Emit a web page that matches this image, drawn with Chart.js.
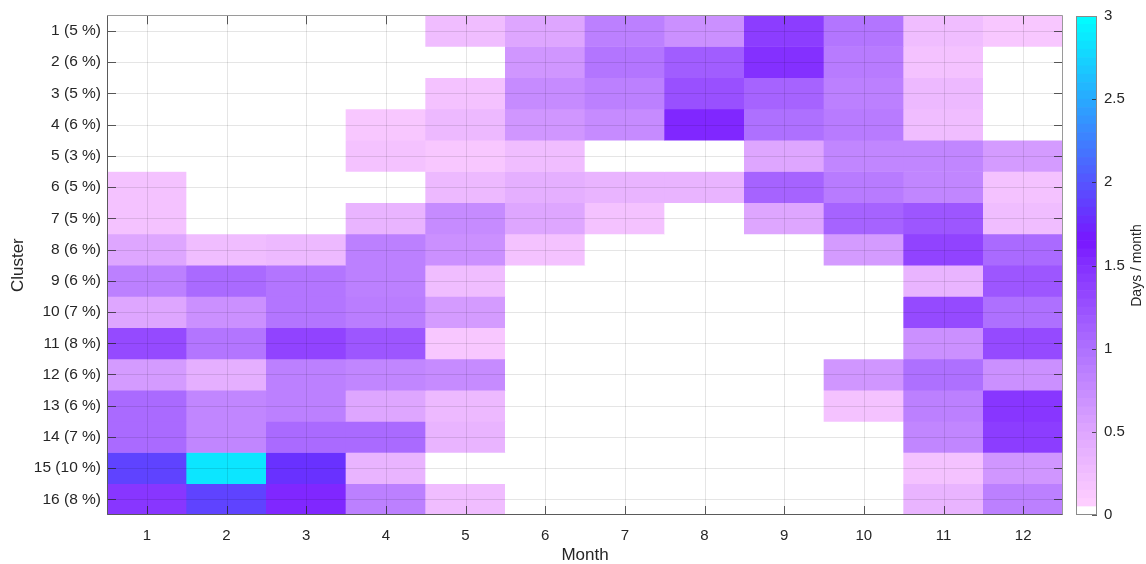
<!DOCTYPE html>
<html><head><meta charset="utf-8">
<script src="https://cdn.jsdelivr.net/npm/chart.js@4"></script>
<style>
html,body{margin:0;padding:0;background:#fff;}
#wrap{position:relative;width:1146px;height:564px;overflow:hidden;}
canvas{position:absolute;top:0;}
</style>
</head><body>
<div id="wrap">
<canvas id="main" width="1146" height="564" style="left:0;width:1146px;height:564px"></canvas>
<canvas id="cb" width="86" height="564" style="left:1060px;width:86px;height:564px"></canvas>
</div>
<script>
const months = ['1','2','3','4','5','6','7','8','9','10','11','12'];
const clusterLabels = ['1 (5 %)','2 (6 %)','3 (5 %)','4 (6 %)','5 (3 %)','6 (5 %)','7 (5 %)','8 (6 %)',
  '9 (6 %)','10 (7 %)','11 (8 %)','12 (6 %)','13 (6 %)','14 (7 %)','15 (10 %)','16 (8 %)'];
const colorbarTicks = [0,0.5,1,1.5,2,2.5,3];

const cluster1  = [0,0,0,0,0.25,0.5,0.85,0.7,1.4,0.95,0.25,0.15];
const cluster2  = [0,0,0,0,0,0.65,0.95,1.15,1.5,0.9,0.2,0];
const cluster3  = [0,0,0,0,0.2,0.75,0.85,1.25,1.1,0.85,0.3,0];
const cluster4  = [0,0,0,0.15,0.3,0.65,0.75,1.55,1.0,0.9,0.25,0];
const cluster5  = [0,0,0,0.2,0.15,0.25,0,0,0.5,0.8,0.8,0.6];
const cluster6  = [0.2,0,0,0,0.3,0.4,0.35,0.35,1.1,0.9,0.8,0.2];
const cluster7  = [0.2,0,0,0.35,0.75,0.5,0.2,0,0.5,1.1,1.2,0.25];
const cluster8  = [0.5,0.25,0.3,0.85,0.7,0.2,0,0,0,0.6,1.35,1.05];
const cluster9  = [0.85,1.05,0.95,0.85,0.25,0,0,0,0,0,0.35,1.2];
const cluster10 = [0.5,0.7,0.95,0.88,0.6,0,0,0,0,0,1.3,1.0];
const cluster11 = [1.3,0.95,1.35,1.2,0.15,0,0,0,0,0,0.7,1.3];
const cluster12 = [0.6,0.4,0.85,0.8,0.75,0,0,0,0,0.65,1.0,0.7];
const cluster13 = [1.05,0.8,0.85,0.5,0.3,0,0,0,0,0.2,0.85,1.45];
const cluster14 = [1.05,0.8,1.05,1.05,0.35,0,0,0,0,0,0.8,1.4];
const cluster15 = [1.9,2.85,1.8,0.35,0,0,0,0,0,0,0.2,0.65];
const cluster16 = [1.45,1.9,1.55,0.85,0.25,0,0,0,0,0,0.35,0.85];

const values = [cluster1,cluster2,cluster3,cluster4,cluster5,cluster6,cluster7,cluster8,
  cluster9,cluster10,cluster11,cluster12,cluster13,cluster14,cluster15,cluster16];

// colormap (styling)
const stops = [[0.05,[255,208,255]],[0.5,[222,166,255]],[1.0,[174,112,255]],[1.5,[132,48,255]],
  [1.65,[120,22,255]],[2.0,[85,85,255]],[2.5,[40,170,255]],[3.0,[0,255,255]]];
function colorFor(v){
  if (v < 0.05) return '#ffffff';
  if (v <= stops[0][0]) return 'rgb('+stops[0][1].join(',')+')';
  for (let i=1;i<stops.length;i++){
    if (v <= stops[i][0]){
      const [a,ca]=stops[i-1],[b,cb]=stops[i];
      const t=(v-a)/(b-a);
      const c=ca.map((x,k)=>Math.round(x+(cb[k]-x)*t));
      return 'rgb('+c.join(',')+')';
    }
  }
  return 'rgb(0,255,255)';
}

const FONT = "'Liberation Sans', Arial, Helvetica, sans-serif";
const TXT = '#262626';

const overlay = {
  id:'overlay',
  afterDatasetsDraw(chart){
    const {ctx, chartArea:a, scales:{x,y}} = chart;
    ctx.save();
    ctx.lineWidth = 1;
    ctx.strokeStyle = 'rgba(0,0,0,0.10)';
    ctx.beginPath();
    months.forEach((m,i)=>{ const px=Math.round(x.getPixelForValue(i))+0.5; ctx.moveTo(px,a.top); ctx.lineTo(px,a.bottom); });
    clusterLabels.forEach((c,i)=>{ const py=Math.round(y.getPixelForValue(i+1))+0.5; ctx.moveTo(a.left,py); ctx.lineTo(a.right,py); });
    ctx.stroke();
    // inward ticks
    ctx.strokeStyle = 'rgba(38,38,38,0.75)';
    ctx.beginPath();
    const tl = 9;
    months.forEach((m,i)=>{ const px=Math.round(x.getPixelForValue(i))+0.5;
      ctx.moveTo(px,a.bottom); ctx.lineTo(px,a.bottom-tl); ctx.moveTo(px,a.top); ctx.lineTo(px,a.top+tl); });
    clusterLabels.forEach((c,i)=>{ const py=Math.round(y.getPixelForValue(i+1))+0.5;
      ctx.moveTo(a.left,py); ctx.lineTo(a.left+tl,py); ctx.moveTo(a.right,py); ctx.lineTo(a.right-tl,py); });
    ctx.stroke();
    // box
    const L=Math.round(a.left)+0.5, R=Math.round(a.right)-0.5, T=Math.round(a.top)+0.5, B=Math.round(a.bottom)-0.5;
    ctx.strokeStyle = '#9a9a9a';
    ctx.beginPath(); ctx.moveTo(L,T); ctx.lineTo(R,T); ctx.lineTo(R,B); ctx.stroke();
    ctx.strokeStyle = '#5a5a5a';
    ctx.beginPath(); ctx.moveTo(L,T); ctx.lineTo(L,B); ctx.lineTo(R,B); ctx.stroke();
    ctx.restore();
  }
};

const datasets = clusterLabels.map((lab,i)=>({
  label: lab,
  data: values[i].map(()=>[i+0.5, i+1.5]),
  backgroundColor: values[i].map(colorFor),
  borderWidth: 0,
  barPercentage: 1,
  categoryPercentage: 1,
  grouped: false
}));

new Chart(document.getElementById('main'), {
  type:'bar',
  data:{ labels: months, datasets },
  options:{
    responsive:false, animation:false,
    layout:{ padding:{ left:0, right:83, top:14, bottom:0 } },
    plugins:{ legend:{display:false}, tooltip:{enabled:false} },
    scales:{
      x:{
        type:'category', offset:true,
        grid:{display:false, drawTicks:false}, border:{display:false},
        ticks:{ color:TXT, font:{family:FONT,size:15}, padding:12, maxRotation:0, autoSkip:false },
        title:{ display:true, text:'Month', color:TXT, font:{family:FONT,size:17,lineHeight:1}, padding:{top:0,bottom:0} },
        afterFit(s){ s.height = 49; }
      },
      y:{
        type:'linear', reverse:true, min:0.5, max:16.5,
        afterBuildTicks(s){ s.ticks = clusterLabels.map((_,i)=>({value:i+1})); },
        grid:{display:false, drawTicks:false}, border:{display:false},
        ticks:{ color:TXT, font:{family:FONT,size:15.5}, padding:6, autoSkip:false,
          callback:(v)=>clusterLabels[Math.round(v)-1] },
        title:{ display:true, text:'Cluster', color:TXT, font:{family:FONT,size:17}, padding:{top:8,bottom:0} },
        afterFit(s){ s.width = 107; }
      }
    }
  },
  plugins:[overlay]
});

// colorbar
const cbStep = 0.05;
const cbLevels = [];
for (let k=0;k<60;k++) cbLevels.push(k);
const cbDatasets = cbLevels.map(k=>({
  data:[[k*cbStep,(k+1)*cbStep]],
  backgroundColor: colorFor((k+0.5)*cbStep),
  borderWidth:0, barPercentage:1, categoryPercentage:1, grouped:false
}));

const cbOverlay = {
  id:'cbOverlay',
  afterDatasetsDraw(chart){
    const {ctx, chartArea:a, scales:{y}} = chart;
    ctx.save();
    ctx.lineWidth=1;
    ctx.strokeStyle='rgba(38,38,38,0.75)';
    ctx.beginPath();
    colorbarTicks.forEach(t=>{ const py=Math.round(y.getPixelForValue(t))+0.5;
      ctx.moveTo(a.right,py); ctx.lineTo(a.right-5,py); });
    ctx.stroke();
    ctx.strokeStyle='#8a8a8a';
    ctx.strokeRect(Math.round(a.left)+0.5, Math.round(a.top)+0.5, Math.round(a.right-a.left)-1, Math.round(a.bottom-a.top)-1);
    // title, reading bottom to top
    ctx.fillStyle=TXT;
    ctx.font="14px "+FONT;
    ctx.textAlign='center'; ctx.textBaseline='middle';
    ctx.translate(77,(a.top+a.bottom)/2);
    ctx.rotate(-Math.PI/2);
    ctx.fillText('Days / month',0,0);
    ctx.restore();
  }
};

new Chart(document.getElementById('cb'), {
  type:'bar',
  data:{ labels:[''], datasets: cbDatasets },
  options:{
    responsive:false, animation:false,
    layout:{ padding:{ left:16, right:0, top:14, bottom:49 } },
    plugins:{ legend:{display:false}, tooltip:{enabled:false} },
    scales:{
      x:{ display:false, offset:true },
      y:{
        type:'linear', position:'right', min:0, max:3,
        afterBuildTicks(s){ s.ticks = colorbarTicks.map(v=>({value:v})); },
        grid:{display:false, drawTicks:false}, border:{display:false},
        ticks:{ color:TXT, font:{family:FONT,size:15}, padding:7, callback:(v)=>String(v) },
        afterFit(s){ s.width = 49; }
      }
    }
  },
  plugins:[cbOverlay]
});
</script>
</body></html>
